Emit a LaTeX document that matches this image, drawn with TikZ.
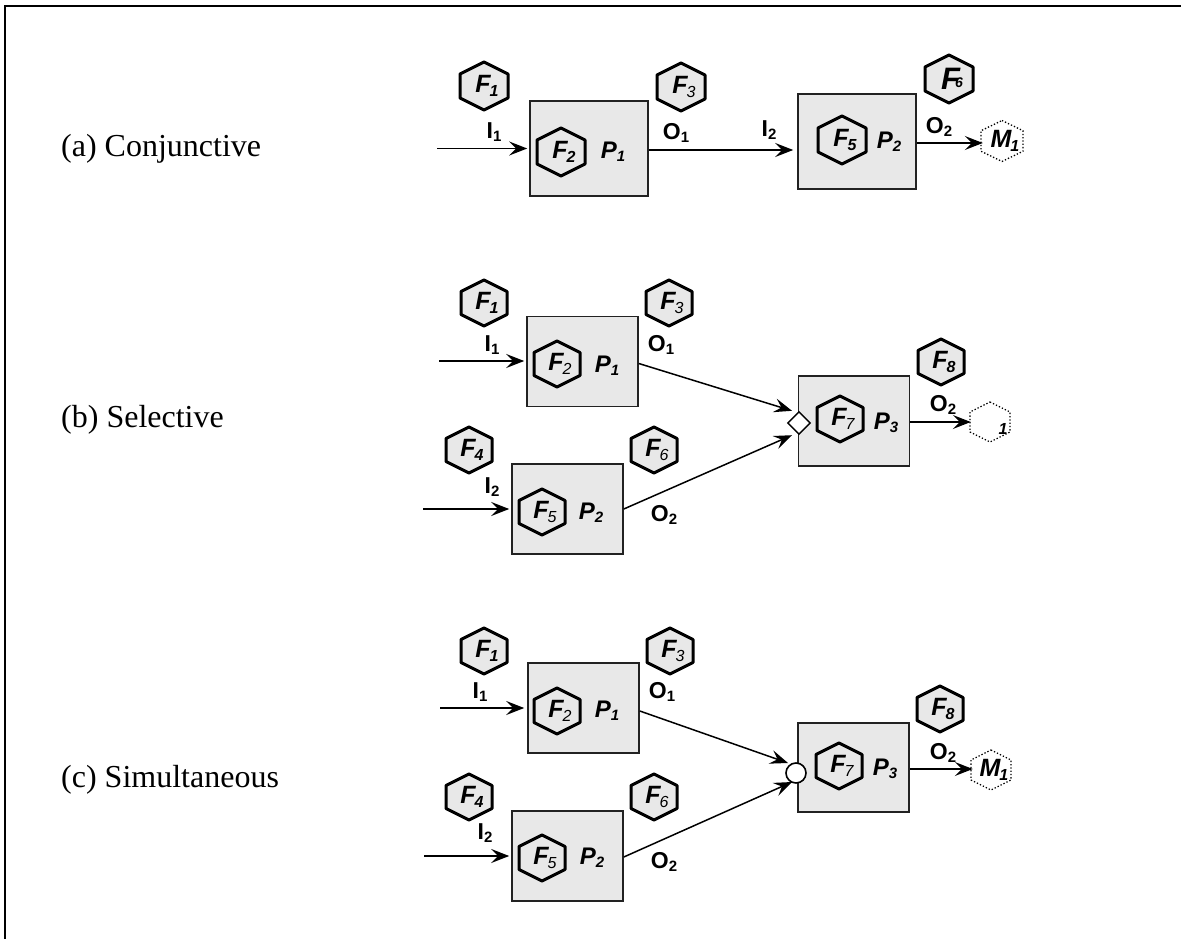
\documentclass[tikz,border=0pt]{standalone}
\usepackage{fontspec}
\setmainfont{Liberation Serif}
\newfontfamily\lsans{Liberation Sans}
\usetikzlibrary{arrows.meta,shapes.geometric}
\definecolor{boxfill}{HTML}{E8E8E8}
\definecolor{boxline}{HTML}{222222}
\tikzset{
  frameline/.style={line width=2.2pt},
  procbox/.style={draw=boxline,fill=boxfill,line width=1.6pt,minimum width=111pt,minimum height=90pt,inner sep=0pt},
  flowarrow/.style={line width=1.5pt,-{Stealth[length=18pt,width=14pt,inset=7pt]}},
  hexsolid/.style={draw=black,line width=3pt,line join=round,fill=boxfill},
  hexin/.style={draw=black,line width=3pt,line join=round},
  hexdot/.style={draw=black,line width=1.3pt,dash pattern=on 1.3pt off 2pt,line join=round},
  hexlabel/.style={font=\lsans\bfseries\itshape\fontsize{25}{25}\selectfont,inner sep=0pt,minimum width=44pt,minimum height=44pt},
  proclabel/.style={font=\lsans\bfseries\itshape\fontsize{24}{24}\selectfont,inner sep=0pt},
  flowlabel/.style={font=\lsans\bfseries\fontsize{23}{23}\selectfont,inner sep=0pt},
  rowlabel/.style={font=\fontsize{32}{32}\selectfont,anchor=base west,inner sep=0pt},
  gatediamond/.style={draw=black,fill=white,line width=1.4pt,diamond,aspect=1,minimum width=23pt,minimum height=23pt,inner sep=0pt},
  gatecircle/.style={draw=black,fill=white,line width=1.6pt,circle,minimum size=20pt,inner sep=0pt}
}
% name, centre, label, style, half width, half height
\newcommand{\hexn}[6]{%
  \draw[#4] (#2) ++(0,-#6) -- ++(#5,0.5*#6) -- ++(0,#6) -- ++(-#5,0.5*#6) -- ++(-#5,-0.5*#6) -- ++(0,-#6) -- cycle;
  \node[hexlabel] (#1) at (#2) {\kern6pt #3};
}
\newcommand{\fb}[1]{\kern-1pt\raisebox{-3.5pt}{\fontsize{16}{16}\selectfont #1}}
\newcommand{\ft}[1]{\kern-1pt\raisebox{-3.5pt}{\fontsize{16}{16}\selectfont\mdseries #1}}
\newcommand{\pb}[1]{\raisebox{-3pt}{\fontsize{15}{15}\selectfont #1}}
\begin{document}
\begin{tikzpicture}[x=1pt,y=-1pt]
\useasboundingbox (0,0) rectangle (1181,939);
\draw[frameline] (5.2,939) -- (5.2,6) -- (1181,6);
\node[rowlabel] (ra) at (61,157) {(a) Conjunctive};
\node[rowlabel] (rb) at (61,427) {(b) Selective};
\node[rowlabel] (rc) at (61,787) {(c) Simultaneous};
% panel a
\node[procbox,minimum width=118pt,minimum height=95pt] (a1) at (589,148.5) {};
\node[procbox,minimum width=118pt,minimum height=95pt] (a2) at (857,141.5) {};
\hexn{aF1}{484,86}{F\fb{1}}{hexsolid}{24}{24}
\hexn{aF3}{681,87}{F\ft{3}}{hexsolid}{24}{24}
\hexn{aF2}{561,152}{F\fb{2}}{hexin}{24}{24}
\hexn{aF5}{842,140}{F\fb{5}}{hexin}{24}{24}
\hexn{aF6}{949,79}{\fontsize{31}{31}\selectfont F\kern-5pt\raisebox{2pt}{\fontsize{14}{14}\selectfont 6}}{hexsolid}{24}{24}
\hexn{aM1}{1002,141}{M\fb{1}}{hexdot}{21}{20.5}
\coordinate (aI1s) at (437,148.5);
\draw[flowarrow] (aI1s) -- ([xshift=-2pt]a1.west);
\draw[flowarrow] ([yshift=-1.5pt]a1.east) -- ([xshift=-4pt,yshift=-8.5pt]a2.west);
\draw[flowarrow] ([yshift=-1.5pt]a2.east) -- ([xshift=3pt,yshift=-2pt]aM1.west);
\node[proclabel] (aP1) at (613,152) {P\pb{1}};
\node[proclabel] (aP2) at (889,142) {P\pb{2}};
\node[flowlabel] (aLi1) at (494,132) {I\pb{1}};
\node[flowlabel] (aLo1) at (676,133) {O\pb{1}};
\node[flowlabel] (aLi2) at (769,130) {I\pb{2}};
\node[flowlabel] (aLo2) at (939,127) {O\pb{2}};
% panel b
\node[procbox] (b1) at (582.5,361.5) {};
\node[procbox] (b2) at (567.5,509) {};
\node[procbox] (b3) at (854,421) {};
\hexn{bF1}{484,303}{F\fb{1}}{hexsolid}{23}{23}
\hexn{bF3}{669,303}{F\ft{3}}{hexsolid}{23}{23}
\hexn{bF2}{557,364}{F\ft{2}}{hexin}{23}{23}
\hexn{bF4}{469,450}{F\fb{4}}{hexsolid}{23}{23}
\hexn{bF6}{654,450}{F\ft{6}}{hexsolid}{23}{23}
\hexn{bF5}{542,512}{F\ft{5}}{hexin}{23}{23}
\hexn{bF7}{840,419}{F\ft{7}}{hexin}{23}{23}
\hexn{bF8}{941,362}{F\fb{8}}{hexsolid}{23}{23}
\hexn{bM1}{990,422}{\hspace*{20pt}\smash{\raisebox{-12pt}{\fontsize{16}{16}\selectfont 1}}}{hexdot}{20}{20}
\node[gatediamond] (bg) at (799,423) {};
\coordinate (bI1s) at (439,361);
\draw[flowarrow] (bI1s) -- ([xshift=-2pt,yshift=0.5pt]b1.west);
\coordinate (bI2s) at (423,509);
\draw[flowarrow] (bI2s) -- ([xshift=-2pt]b2.west);
\draw[flowarrow] ([yshift=-2pt]b1.east) -- ([xshift=-7pt]bg.north);
\draw[flowarrow] (b2.east) -- ([xshift=-7pt]bg.south);
\draw[flowarrow] ([yshift=-1pt]b3.east) -- ([xshift=3pt]bM1.west);
\node[proclabel] (bP1) at (607,366) {P\pb{1}};
\node[proclabel] (bP2) at (591,513) {P\pb{2}};
\node[proclabel] (bP3) at (886,423) {P\pb{3}};
\node[flowlabel] (bLi1) at (492,345) {I\pb{1}};
\node[flowlabel] (bLo1) at (661,345) {O\pb{1}};
\node[flowlabel] (bLi2) at (492,487) {I\pb{2}};
\node[flowlabel] (bLo2) at (664,515) {O\pb{2}};
\node[flowlabel] (bLo3) at (943,405) {O\pb{2}};
% panel c
\node[procbox] (c1) at (583.5,708) {};
\node[procbox] (c2) at (567.5,856) {};
\node[procbox,minimum height=89pt] (c3) at (853.5,767.5) {};
\hexn{cF1}{484,651}{F\fb{1}}{hexsolid}{23}{23}
\hexn{cF3}{670,651}{F\ft{3}}{hexsolid}{23}{23}
\hexn{cF2}{557,711}{F\ft{2}}{hexin}{23}{23}
\hexn{cF4}{469,797}{F\fb{4}}{hexsolid}{23}{23}
\hexn{cF6}{654,797}{F\ft{6}}{hexsolid}{23}{23}
\hexn{cF5}{542,858}{F\ft{5}}{hexin}{23}{23}
\hexn{cF7}{839,766}{F\ft{7}}{hexin}{23}{23}
\hexn{cF8}{940,709}{F\fb{8}}{hexsolid}{23}{23}
\hexn{cM1}{991,770}{M\fb{1}}{hexdot}{20}{20}
\node[gatecircle] (cg) at (796,773) {};
\coordinate (cI1s) at (440,708);
\draw[flowarrow] (cI1s) -- ([xshift=-3pt]c1.west);
\coordinate (cI2s) at (424,856);
\draw[flowarrow] (cI2s) -- ([xshift=-2pt]c2.west);
\draw[flowarrow] ([yshift=-3pt]c1.east) -- ([xshift=-8pt,yshift=10pt]cg.center);
\draw[flowarrow] ([yshift=-1pt]c2.east) -- ([xshift=-4pt,yshift=-9pt]cg.center);
\draw[flowarrow] ([yshift=-1.5pt]c3.east) -- ([xshift=4pt,yshift=1pt]cM1.west);
\node[proclabel] (cP1) at (607,711) {P\pb{1}};
\node[proclabel] (cP2) at (592,858) {P\pb{2}};
\node[proclabel] (cP3) at (885,769) {P\pb{3}};
\node[flowlabel] (cLi1) at (480,692) {I\pb{1}};
\node[flowlabel] (cLo1) at (662,692) {O\pb{1}};
\node[flowlabel] (cLi2) at (485,833) {I\pb{2}};
\node[flowlabel] (cLo2) at (664,862) {O\pb{2}};
\node[flowlabel] (cLo3) at (943,753) {O\pb{2}};
\end{tikzpicture}
\end{document}
